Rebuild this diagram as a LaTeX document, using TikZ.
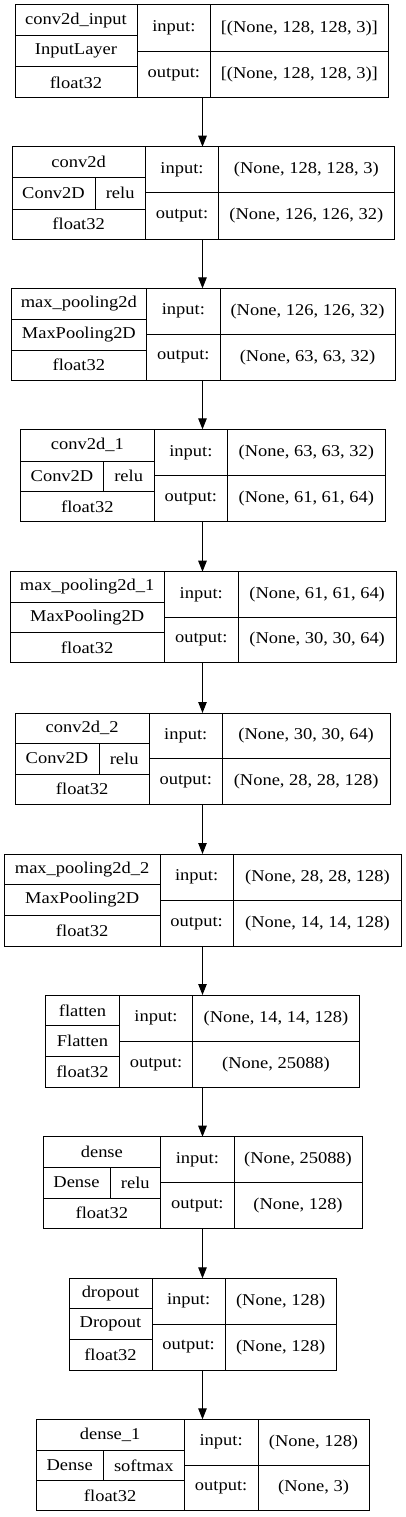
\documentclass[tikz,border=0pt]{standalone}
\usepackage{fontspec}
\setmainfont{Liberation Serif}[FakeStretch=1.12]
\usetikzlibrary{arrows.meta}
\tikzset{
  cellst/.style={draw=black, line width=1pt, rectangle, inner sep=0pt, outer sep=0pt,
    font=\fontsize{16.5}{19}\selectfont, text=black},
  arr/.style={draw=black, line width=1pt, -{Triangle[length=11pt,width=8.5pt]}}
}
\newcommand\lcell[6]{\node[cellst, minimum width={#4-#2}, minimum height={#5-#3}] (#1) at ({(#2+#4)/2},{(#3+#5)/2}) {#6};}
% #1 id, #2 L, #3 c1, #4 c2, #5 R, #6 T, #7 y1, #8 y2, #9 B
\newcommand\lframe[9]{%
  \lcell{#1name}{#2}{#6}{#3}{#7}{\lname}
  \lcell{#1type}{#2}{#8}{#3}{#9}{float32}
  \lcell{#1inl}{#3}{#6}{#4}{(#6+#9)/2}{input:}
  \lcell{#1outl}{#3}{(#6+#9)/2}{#4}{#9}{output:}
  \lcell{#1inv}{#4}{#6}{#5}{(#6+#9)/2}{\lin}
  \lcell{#1outv}{#4}{(#6+#9)/2}{#5}{#9}{\lout}
  \coordinate (#1top) at (202.5,#6);
  \coordinate (#1bot) at (202.5,#9);
}
\begin{document}
\begin{tikzpicture}[x=1pt,y=-1pt]
\useasboundingbox[fill=white] (0,0) rectangle (405,1517);

% 1
\def\lname{conv2d\_input}\def\lin{[(None, 128, 128, 3)]}\def\lout{[(None, 128, 128, 3)]}
\lframe{a}{15}{137}{210.7}{388}{5}{35.7}{67}{97.7}
\lcell{aclass}{15}{35.7}{137}{67}{InputLayer}

% 2
\def\lname{conv2d}\def\lin{(None, 128, 128, 3)}\def\lout{(None, 126, 126, 32)}
\lframe{b}{12}{145.3}{218.7}{394}{146.7}{177.3}{209}{239}
\lcell{bclass}{12}{177.3}{95}{209}{Conv2D}
\lcell{bact}{95}{177.3}{145.3}{209}{relu}

% 3
\def\lname{max\_pooling2d}\def\lin{(None, 126, 126, 32)}\def\lout{(None, 63, 63, 32)}
\lframe{c}{11}{146.7}{220}{395}{288.3}{319.3}{350}{380}
\lcell{cclass}{11}{319.3}{146.7}{350}{MaxPooling2D}

% 4
\def\lname{conv2d\_1}\def\lin{(None, 63, 63, 32)}\def\lout{(None, 61, 61, 64)}
\lframe{d}{20.7}{154}{227.7}{385}{429.3}{461}{491}{521.7}
\lcell{dclass}{20.7}{461}{103.3}{491}{Conv2D}
\lcell{dact}{103.3}{461}{154}{491}{relu}

% 5
\def\lname{max\_pooling2d\_1}\def\lin{(None, 61, 61, 64)}\def\lout{(None, 30, 30, 64)}
\lframe{e}{10}{164.3}{238.3}{396}{571.7}{602.3}{632.7}{662.7}
\lcell{eclass}{10}{602.3}{164.3}{632.7}{MaxPooling2D}

% 6
\def\lname{conv2d\_2}\def\lin{(None, 30, 30, 64)}\def\lout{(None, 28, 28, 128)}
\lframe{f}{15}{149.3}{222.3}{390}{713}{743}{774}{804.3}
\lcell{fclass}{15}{743}{99}{774}{Conv2D}
\lcell{fact}{99}{743}{149.3}{774}{relu}

% 7
\def\lname{max\_pooling2d\_2}\def\lin{(None, 28, 28, 128)}\def\lout{(None, 14, 14, 128)}
\lframe{g}{4.3}{160}{233.3}{401.7}{854}{884.3}{915}{946.7}
\lcell{gclass}{4.3}{884.3}{160}{915}{MaxPooling2D}

% 8
\def\lname{flatten}\def\lin{(None, 14, 14, 128)}\def\lout{(None, 25088)}
\lframe{h}{45.7}{119.3}{192.7}{359.3}{995}{1025.7}{1056.7}{1087.3}
\lcell{hclass}{45.7}{1025.7}{119.3}{1056.7}{Flatten}

% 9
\def\lname{dense}\def\lin{(None, 25088)}\def\lout{(None, 128)}
\lframe{i}{43}{160.7}{234}{362}{1136.7}{1167}{1198}{1228.3}
\lcell{iclass}{43}{1167}{110}{1198}{Dense}
\lcell{iact}{110}{1167}{160.7}{1198}{relu}

% 10
\def\lname{dropout}\def\lin{(None, 128)}\def\lout{(None, 128)}
\lframe{j}{69}{152}{225.3}{336}{1278.3}{1308.7}{1339.3}{1370}
\lcell{jclass}{69}{1308.7}{152}{1339.3}{Dropout}

% 11
\def\lname{dense\_1}\def\lin{(None, 128)}\def\lout{(None, 3)}
\lframe{k}{36}{184.3}{258}{369}{1419.3}{1450}{1480.7}{1510.7}
\lcell{kclass}{36}{1450}{103.3}{1480.7}{Dense}
\lcell{kact}{103.3}{1450}{184.3}{1480.7}{softmax}

% connectors
\draw[arr] (abot) -- (btop);
\draw[arr] (bbot) -- (ctop);
\draw[arr] (cbot) -- (dtop);
\draw[arr] (dbot) -- (etop);
\draw[arr] (ebot) -- (ftop);
\draw[arr] (fbot) -- (gtop);
\draw[arr] (gbot) -- (htop);
\draw[arr] (hbot) -- (itop);
\draw[arr] (ibot) -- (jtop);
\draw[arr] (jbot) -- (ktop);
\end{tikzpicture}
\end{document}
